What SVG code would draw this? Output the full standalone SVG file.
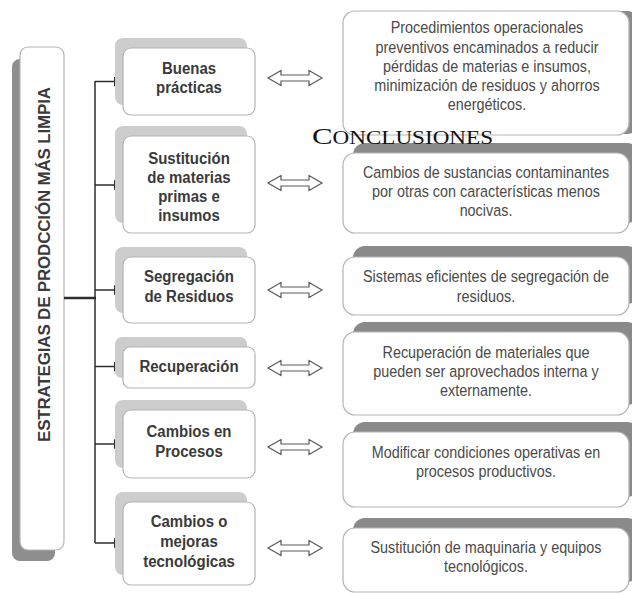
<svg xmlns="http://www.w3.org/2000/svg" width="632" height="595" viewBox="0 0 632 595">
<style>
.bg{fill:#ffffff}
.lshadow{fill:#8e8e8e}
.mshadow{fill:#cdcdcd}
.rshadow{fill:#8a8a8a}
.box{fill:#ffffff;stroke:#b4b4b4;stroke-width:1.2}
.mt{font-family:"Liberation Sans",Arial,sans-serif;font-weight:bold;font-size:15px;fill:#3a3a3a;text-anchor:middle}
.rt{font-family:"Liberation Sans",Arial,sans-serif;font-size:14.4px;fill:#4a4a4a;text-anchor:middle}
.vt{font-family:"Liberation Sans",Arial,sans-serif;font-weight:bold;font-size:17px;fill:#3a3a3a;text-anchor:middle}
.line{stroke:#2e2e2e;stroke-width:1.5;fill:none}
.trunk{stroke:#2e2e2e;stroke-width:2.5;fill:none}
.dbl{fill:#ffffff;stroke:#5a5a5a;stroke-width:1.2;stroke-linejoin:miter}
.title{font-family:"Liberation Serif","Times New Roman",serif;fill:#111111}
</style>
<defs>
<marker id="ah" markerUnits="userSpaceOnUse" markerWidth="9" markerHeight="10" refX="9" refY="5" orient="auto">
<path d="M0,0 L9,5 L0,10 Z" fill="#2e2e2e"/>
</marker>
<path id="darrow" d="M0,0 L13,-7.5 L13,-3 L41,-3 L41,-7.5 L54,0 L41,7.5 L41,3 L13,3 L13,7.5 Z"/>
</defs>
<rect class="bg" x="0" y="0" width="632" height="595"/>

<g id="main">
<rect class="lshadow" x="12" y="59" width="43" height="502" rx="8"/>
<rect class="box" x="20" y="47" width="44" height="503" rx="8"/>
<text class="vt" transform="translate(50,264.5) rotate(-90)" textLength="355">ESTRATEGIAS DE PRODCCIÓN MÁS LIMPIA</text>
</g>

<g id="connectors">
<path class="trunk" d="M64,298 H96"/>
<path class="line" d="M95,81 V543"/>
<path class="line" d="M95,81.5 H123" marker-end="url(#ah)"/>
<path class="line" d="M95,185 H123" marker-end="url(#ah)"/>
<path class="line" d="M95,290 H123" marker-end="url(#ah)"/>
<path class="line" d="M95,366.5 H123" marker-end="url(#ah)"/>
<path class="line" d="M95,444 H123" marker-end="url(#ah)"/>
<path class="line" d="M95,543 H123" marker-end="url(#ah)"/>
<use href="#darrow" class="dbl" x="268" y="78"/>
<use href="#darrow" class="dbl" x="268" y="183"/>
<use href="#darrow" class="dbl" x="268" y="290"/>
<use href="#darrow" class="dbl" x="268" y="368"/>
<use href="#darrow" class="dbl" x="268" y="447"/>
<use href="#darrow" class="dbl" x="268" y="548"/>
</g>

<g id="buenas">
<rect class="mshadow" x="115" y="38" width="132" height="67" rx="8"/>
<rect class="box" x="123" y="48" width="132" height="67" rx="8"/>
<text class="mt" transform="matrix(1 0 0 1.12 189 74)">Buenas</text>
<text class="mt" transform="matrix(1 0 0 1.12 189 92.5)">prácticas</text>
</g>

<g id="sustitucion">
<rect class="mshadow" x="115" y="126" width="132" height="97" rx="8"/>
<rect class="box" x="123" y="136" width="132" height="97" rx="8"/>
<text class="mt" transform="matrix(1 0 0 1.12 189 163.5)">Sustitución</text>
<text class="mt" transform="matrix(1 0 0 1.12 189 183)">de materias</text>
<text class="mt" transform="matrix(1 0 0 1.12 189 202)">primas e</text>
<text class="mt" transform="matrix(1 0 0 1.12 189 221)">insumos</text>
</g>

<g id="segregacion">
<rect class="mshadow" x="115" y="247" width="132" height="66" rx="8"/>
<rect class="box" x="123" y="257" width="132" height="66" rx="8"/>
<text class="mt" transform="matrix(1 0 0 1.12 189 282)">Segregación</text>
<text class="mt" transform="matrix(1 0 0 1.12 189 302)">de Residuos</text>
</g>

<g id="recuperacion">
<rect class="mshadow" x="115" y="337" width="132" height="41" rx="7"/>
<rect class="box" x="123" y="347" width="132" height="41" rx="7"/>
<text class="mt" transform="matrix(1 0 0 1.12 189 372)">Recuperación</text>
</g>

<g id="cambios-procesos">
<rect class="mshadow" x="115" y="400" width="132" height="68" rx="8"/>
<rect class="box" x="123" y="410" width="132" height="68" rx="8"/>
<text class="mt" transform="matrix(1 0 0 1.12 189 437)">Cambios en</text>
<text class="mt" transform="matrix(1 0 0 1.12 189 457)">Procesos</text>
</g>

<g id="cambios-tecnologicas">
<rect class="mshadow" x="115" y="492" width="132" height="83" rx="8"/>
<rect class="box" x="123" y="502" width="132" height="83" rx="8"/>
<text class="mt" transform="matrix(1 0 0 1.12 189 527)">Cambios o</text>
<text class="mt" transform="matrix(1 0 0 1.12 189 547)">mejoras</text>
<text class="mt" transform="matrix(1 0 0 1.12 189 567)">tecnológicas</text>
</g>

<g id="desc-buenas">
<rect class="rshadow" x="353" y="11" width="286" height="123" rx="12"/>
<rect class="box" x="343" y="11" width="286" height="124" rx="12"/>
<text class="rt" transform="matrix(1 0 0 1.12 487 33)">Procedimientos operacionales</text>
<text class="rt" transform="matrix(1 0 0 1.12 487 52.5)">preventivos encaminados a reducir</text>
<text class="rt" transform="matrix(1 0 0 1.12 487 71.5)">pérdidas de materias e insumos,</text>
<text class="rt" transform="matrix(1 0 0 1.12 487 91)">minimización de residuos y ahorros</text>
<text class="rt" transform="matrix(1 0 0 1.12 487 109.5)">energéticos.</text>
</g>

<g id="desc-sustitucion">
<rect class="rshadow" x="353" y="143" width="286" height="80" rx="12"/>
<rect class="box" x="343" y="153" width="286" height="80" rx="12"/>
<text class="rt" transform="matrix(1 0 0 1.12 486 178)">Cambios de sustancias contaminantes</text>
<text class="rt" transform="matrix(1 0 0 1.12 486 197)">por otras con características menos</text>
<text class="rt" transform="matrix(1 0 0 1.12 486 215.5)">nocivas.</text>
</g>

<g id="desc-segregacion">
<rect class="rshadow" x="353" y="246" width="286" height="58" rx="12"/>
<rect class="box" x="343" y="257" width="286" height="58" rx="12"/>
<text class="rt" transform="matrix(1 0 0 1.12 486 282)">Sistemas eficientes de segregación de</text>
<text class="rt" transform="matrix(1 0 0 1.12 486 301.5)">residuos.</text>
</g>

<g id="desc-recuperacion">
<rect class="rshadow" x="353" y="322" width="286" height="83" rx="12"/>
<rect class="box" x="343" y="332" width="286" height="83" rx="12"/>
<text class="rt" transform="matrix(1 0 0 1.12 486 358)">Recuperación de materiales que</text>
<text class="rt" transform="matrix(1 0 0 1.12 486 377)">pueden ser aprovechados interna y</text>
<text class="rt" transform="matrix(1 0 0 1.12 486 396)">externamente.</text>
</g>

<g id="desc-procesos">
<rect class="rshadow" x="353" y="422" width="286" height="75" rx="12"/>
<rect class="box" x="343" y="432" width="286" height="75" rx="12"/>
<text class="rt" transform="matrix(1 0 0 1.12 486 458)">Modificar condiciones operativas en</text>
<text class="rt" transform="matrix(1 0 0 1.12 486 477)">procesos productivos.</text>
</g>

<g id="desc-tecnologicas">
<rect class="rshadow" x="353" y="518" width="286" height="64" rx="12"/>
<rect class="box" x="343" y="528" width="286" height="64" rx="12"/>
<text class="rt" transform="matrix(1 0 0 1.12 486 553)">Sustitución de maquinaria y equipos</text>
<text class="rt" transform="matrix(1 0 0 1.12 486 572)">tecnológicos.</text>
</g>

<g id="conclusiones">
<text class="title" x="312" y="144" textLength="181" lengthAdjust="spacingAndGlyphs"><tspan font-size="24">C</tspan><tspan font-size="18">ONCLUSIONES</tspan></text>
</g>
</svg>
